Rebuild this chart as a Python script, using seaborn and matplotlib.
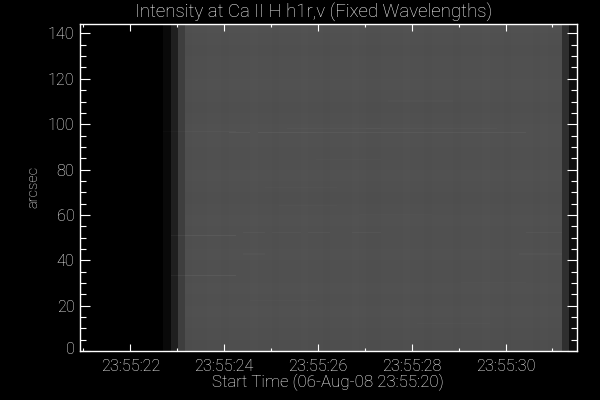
import numpy as np
import pandas as pd
import matplotlib
matplotlib.use("Agg")
import matplotlib.pyplot as plt
from matplotlib.transforms import ScaledTranslation
import seaborn as sns

# Grey level of each time column (0-255), first column starts at 23:55:20.85
column_levels = [0, 0, 0, 0, 0, 0, 0, 0, 0, 0, 0, 0,
                 9, 31, 62, 78, 79, 79, 80, 80, 79, 80, 80, 80, 81, 80, 80, 79, 80, 80,
                 80, 81, 80, 80, 79, 80, 80, 80, 81, 80, 79, 79, 80, 80, 80, 81, 80, 80,
                 79, 80, 80, 80, 79, 80, 80, 80, 81, 80, 80, 79, 80, 80, 80, 79, 80, 79, 79,
                 47, 14]

# Slow change of brightness along the slit, one value per 5 arcsec from 0 up
band_offsets = [-2, -1, 0, 1, 0, 1, 0, 0, 1, 0, 0, 1, 0, -1, 0, 1, 0,
                0, 1, 1, 0, -1, 0, 1, 0, 0, -1, 0, 1, 0]

# Streaks: arcsec, first and last second of the minute, added grey level
streak_arcsec = [96.0, 96.0, 96.0, 96.5, 98.0, 98.0, 50.5, 33.0, 52.2, 52.2, 52.2, 52.2,
                 52.2, 52.2, 42.6, 42.6, 22.0, 60.0, 72.0, 12.0, 84.0, 30.0, 64.0, 110.0]
streak_start = [24.23, 24.83, 25.96, 22.85, 25.4, 27.1, 22.9, 22.87, 24.5, 25.13, 25.4, 25.85,
                26.85, 30.45, 24.5, 30.4, 24.6, 27.0, 25.0, 28.2, 26.0, 29.1, 25.2, 27.6]
streak_end = [24.5, 25.85, 30.3, 24.23, 27.3, 29.7, 24.2, 24.2, 24.8, 25.23, 25.6, 26.15,
              27.2, 31.2, 24.8, 31.2, 25.8, 28.4, 26.3, 29.6, 27.2, 30.3, 26.4, 28.8]
streak_delta = [7, 8, 7, 4, 3, 3, 9, 9, 5, 4, 4, 5, 5, 5, 3, 3, 2, 2, 2, 2, 2, 2, 2, 2]

x_major = [22, 24, 26, 28, 30]
x_minor = [21, 23, 25, 27, 29, 31]
x_labels = ["23:55:22", "23:55:24", "23:55:26", "23:55:28", "23:55:30"]
y_major = [0, 20, 40, 60, 80, 100, 120, 140]
y_minor = [5, 10, 15, 25, 30, 35, 45, 50, 55, 65, 70, 75, 85, 90, 95, 105, 110, 115, 125, 130, 135]

col_start = 20.85
col_width = 0.1546
row_height = 0.5
y_top = 144.4
n_rows = int(y_top / row_height) + 1

def x_pos(sec):
    return (sec - col_start) / col_width

cols = np.array(column_levels, dtype=float)
image = np.tile(cols, (n_rows, 1))
lit = cols > 70
for r in range(n_rows):
    band = band_offsets[min(int(r * row_height / 5), len(band_offsets) - 1)]
    image[r, lit] += band
for a, s0, s1, d in zip(streak_arcsec, streak_start, streak_end, streak_delta):
    r = int(a / row_height)
    image[r, int(x_pos(s0)):int(x_pos(s1)) + 1] += d

table = pd.DataFrame(image)

plt.rcParams['font.family'] = ['Roboto', 'DejaVu Sans']
plt.rcParams['font.weight'] = 'light'
plt.rcParams['axes.titleweight'] = 'light'
plt.rcParams['axes.labelweight'] = 'light'
fig = plt.figure(figsize=(6, 4), dpi=100, facecolor='black')
ax = fig.add_axes([80 / 600, 1 - 351 / 400, 496.7 / 600, 327.5 / 400])
sns.heatmap(table, ax=ax, cmap='gray', vmin=0, vmax=255, cbar=False,
            xticklabels=False, yticklabels=False)
ax.set_xlim(0.49, len(column_levels))
ax.set_ylim(0, y_top / row_height)

ax.set_xticks([x_pos(s) for s in x_major])
ax.set_xticklabels(x_labels)
ax.set_xticks([x_pos(s) for s in x_minor], minor=True)
ax.set_yticks([v / row_height for v in y_major])
ax.set_yticklabels([str(v) for v in y_major])
ax.set_yticks([v / row_height for v in y_minor], minor=True)

ax.tick_params(axis='x', which='major', direction='in', length=5.2, width=0.8, color='white',
               top=True, bottom=True, labelcolor='white', labelsize=11.7, pad=6)
ax.tick_params(axis='x', which='minor', direction='in', length=2.5, width=0.8, color='white',
               top=True, bottom=True)
ax.tick_params(axis='y', which='major', direction='in', length=7.5, width=0.8, color='white',
               left=True, right=True, labelcolor='white', labelsize=11.7, pad=4, rotation=0)
ax.tick_params(axis='y', which='minor', direction='in', length=4, width=0.8, color='white',
               left=True, right=True)
for side in ax.spines.values():
    side.set_visible(True)
    side.set_color('white')
    side.set_linewidth(1)

# the 0 label sits a little above its tick in the original
zero_label = ax.get_yticklabels()[0]
zero_label.set_transform(zero_label.get_transform() + ScaledTranslation(0, 0.03, fig.dpi_scale_trans))

ax.set_xlabel("Start Time (06-Aug-08 23:55:20)", color='white', fontsize=12.2, labelpad=0)
ax.set_ylabel("arcsec", color='white', fontsize=10.5, labelpad=5)
ax.set_title("Intensity at Ca II H h1r,v (Fixed Wavelengths)", color='white', fontsize=13.4,
             x=0.47, pad=4)

fig.savefig("out.png", dpi=100, facecolor='black')
